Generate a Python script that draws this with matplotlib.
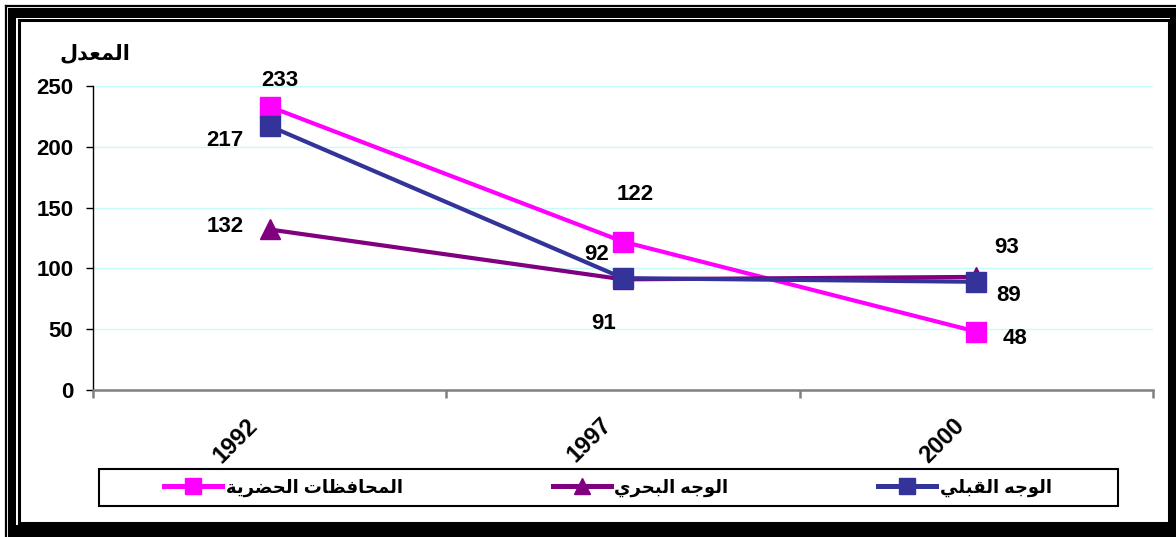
import matplotlib
matplotlib.use("Agg")
import matplotlib.pyplot as plt
import matplotlib.transforms as mtransforms
from matplotlib.patches import Rectangle

plt.rcParams['font.family'] = ['Liberation Sans', 'DejaVu Sans']
plt.rcParams['font.weight'] = 'bold'

# Rates by region and survey year
years = ['1992', '1997', '2000']
urban = [233, 122, 48]
lower_egypt = [132, 91, 93]
upper_egypt = [217, 92, 89]
series_names = ['المحافظات الحضرية', 'الوجه البحري', 'الوجه القبلي']
y_title = 'المعدل'

# Arabic letter forms: isolated, final, initial, medial
FORMS = {
    'ا': ('\uFE8D', '\uFE8E', None, None),
    'ب': ('\uFE8F', '\uFE90', '\uFE91', '\uFE92'),
    'ة': ('\uFE93', '\uFE94', None, None),
    'ت': ('\uFE95', '\uFE96', '\uFE97', '\uFE98'),
    'ج': ('\uFE9D', '\uFE9E', '\uFE9F', '\uFEA0'),
    'ح': ('\uFEA1', '\uFEA2', '\uFEA3', '\uFEA4'),
    'د': ('\uFEA9', '\uFEAA', None, None),
    'ر': ('\uFEAD', '\uFEAE', None, None),
    'ض': ('\uFEBD', '\uFEBE', '\uFEBF', '\uFEC0'),
    'ظ': ('\uFEC5', '\uFEC6', '\uFEC7', '\uFEC8'),
    'ع': ('\uFEC9', '\uFECA', '\uFECB', '\uFECC'),
    'ف': ('\uFED1', '\uFED2', '\uFED3', '\uFED4'),
    'ق': ('\uFED5', '\uFED6', '\uFED7', '\uFED8'),
    'ل': ('\uFEDD', '\uFEDE', '\uFEDF', '\uFEE0'),
    'م': ('\uFEE1', '\uFEE2', '\uFEE3', '\uFEE4'),
    'ه': ('\uFEE9', '\uFEEA', '\uFEEB', '\uFEEC'),
    'و': ('\uFEED', '\uFEEE', None, None),
    'ي': ('\uFEF1', '\uFEF2', '\uFEF3', '\uFEF4'),
}


def arabic(text):
    # join letters and reverse them for left-to-right drawing
    out = []
    for i, c in enumerate(text):
        if c not in FORMS:
            out.append(c)
            continue
        prev = text[i - 1] if i > 0 else None
        nxt = text[i + 1] if i + 1 < len(text) else None
        join_prev = prev in FORMS and FORMS[prev][2] is not None
        join_next = nxt in FORMS and FORMS[c][2] is not None
        iso, fin, ini, med = FORMS[c]
        if join_prev and join_next:
            out.append(med)
        elif join_prev:
            out.append(fin)
        elif join_next:
            out.append(ini)
        else:
            out.append(iso)
    return ''.join(reversed(out))


W, H = 1176, 537
fig = plt.figure(figsize=(W / 100, H / 100), dpi=100)


def fx(px):
    return px / W


def fy(py):
    return 1 - py / H


# double frame around the chart
fig.add_artist(Rectangle((fx(8), fy(537)), fx(1168), 529 / H, transform=fig.transFigure,
                         facecolor='black', edgecolor='none', zorder=-5))
fig.add_artist(Rectangle((fx(16), fy(524.5)), fx(1170 - 16), (524.5 - 18) / H, transform=fig.transFigure,
                         facecolor='white', edgecolor='none', zorder=-4))
fig.add_artist(Rectangle((fx(18.5), fy(523)), fx(1168.5 - 18.5), (523 - 20) / H, transform=fig.transFigure,
                         facecolor='none', edgecolor='black', linewidth=2.2, zorder=-3))
fig.add_artist(plt.Line2D([fx(6), fx(1176)], [fy(6), fy(6)], transform=fig.transFigure,
                          color='black', linewidth=1.6, zorder=-3))
fig.add_artist(plt.Line2D([fx(6), fx(6)], [fy(6), fy(537)], transform=fig.transFigure,
                          color='black', linewidth=1.6, zorder=-3))

ax = fig.add_axes([fx(93), fy(390), fx(1153 - 93), (390 - 86) / H])
ax.set_facecolor('none')

x = range(len(years))
ax.plot(x, urban, color='#FF00FF', linewidth=3, marker='s', markersize=14, label=arabic(series_names[0]))
ax.plot(x, lower_egypt, color='#800080', linewidth=3, marker='^', markersize=14, label=arabic(series_names[1]))
ax.plot(x, upper_egypt, color='#333399', linewidth=3, marker='s', markersize=14, label=arabic(series_names[2]))

# value labels, offsets in points
offsets_urban = [(7, 19), (9, 34), (28, -5)]
offsets_lower = [(-32, 2), (-14, -32), (22, 21)]
offsets_upper = [(-32, -10), (-19, 17), (23, -10)]
for vals, offs in [(urban, offsets_urban), (lower_egypt, offsets_lower), (upper_egypt, offsets_upper)]:
    for i, (v, o) in enumerate(zip(vals, offs)):
        ax.annotate(str(v), (i, v), xytext=o, textcoords='offset points',
                    ha='center', va='center', fontsize=16, fontweight='bold')

ax.set_xlim(-0.5, 2.5)
ax.set_ylim(0, 250)
ax.set_yticks([0, 50, 100, 150, 200, 250])
ax.grid(axis='y', color='#c8fafa', linewidth=1)
ax.set_axisbelow(True)

ax.spines['top'].set_visible(False)
ax.spines['right'].set_visible(False)
ax.spines['left'].set_linewidth(1)
ax.spines['bottom'].set_color('#808080')
ax.spines['bottom'].set_linewidth(1.8)

ax.tick_params(axis='y', length=5, width=1, pad=9, labelsize=16)
ax.set_xticks(list(x))
ax.set_xticklabels(years, rotation=45, ha='right', va='top', fontsize=17, fontweight='bold')
ax.set_xticks([-0.5, 0.5, 1.5, 2.5], minor=True)
ax.tick_params(axis='x', which='major', length=0, pad=17)
ax.tick_params(axis='x', which='minor', length=6, width=1.8, color='#808080')
shift = mtransforms.ScaledTranslation(-7 / 100, 0, fig.dpi_scale_trans)
for lbl in ax.get_xticklabels():
    lbl.set_transform(lbl.get_transform() + shift)

fig.text(fx(95), fy(53), arabic(y_title), ha='center', va='center', fontsize=15, fontweight='bold')

# legend box below the axis
fig.add_artist(Rectangle((fx(99), fy(506)), fx(1118 - 99), (506 - 469) / H, transform=fig.transFigure,
                         facecolor='white', edgecolor='black', linewidth=1.5, zorder=1))
leg = fig.legend(loc='center', bbox_to_anchor=(fx(608), fy(487.5)), ncol=3, frameon=False,
                 fontsize=13, handlelength=3.2, handletextpad=0.2, columnspacing=8.3,
                 markerscale=0.85)
for line in leg.get_lines():
    line.set_linewidth(3.6)
leg.set_zorder(2)

fig.savefig('out.png', dpi=100)
